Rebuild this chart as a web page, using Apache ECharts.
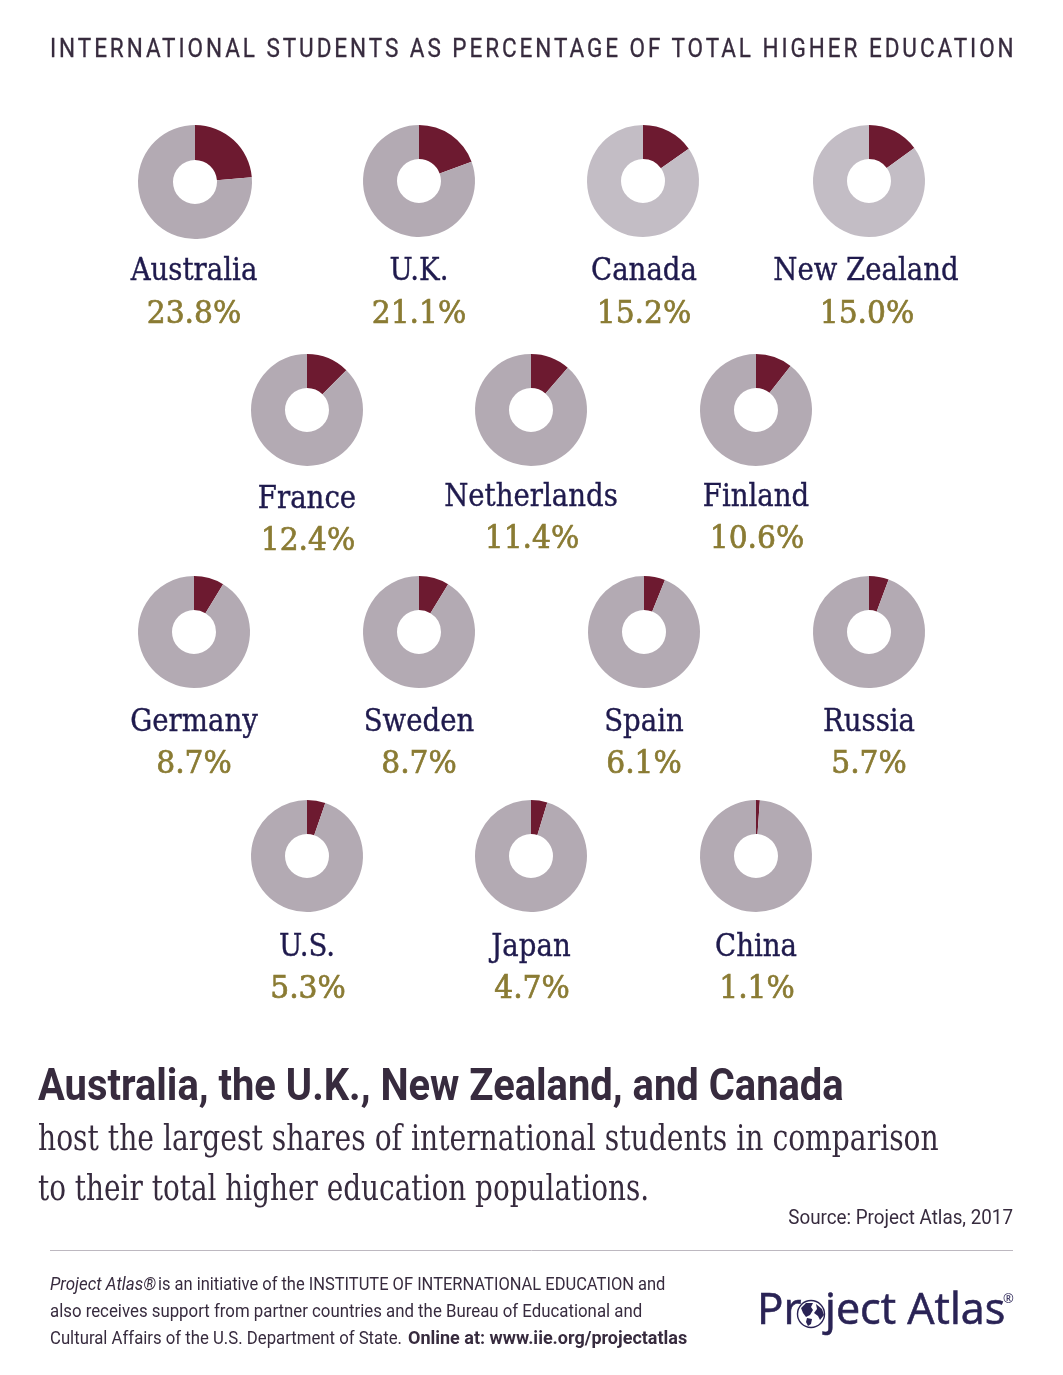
<!DOCTYPE html>
<html lang="en">
<head>
<meta charset="UTF-8">
<style>
html,body{margin:0;padding:0;background:#fff}
#chart{width:1063px;height:1375px}
#top{position:absolute;left:50px;top:34px;font:25px/30px Roboto;color:#372b3e;letter-spacing:3.28px;white-space:nowrap;transform:scaleX(.9);transform-origin:left top;-webkit-text-stroke:.3px #372b3e}
</style>
</head>
<body>
<div id="chart"></div>
<div id="top">INTERNATIONAL STUDENTS AS PERCENTAGE OF TOTAL HIGHER EDUCATION</div>
<script src="https://cdn.jsdelivr.net/npm/echarts@6/dist/echarts.min.js"></script>
<script>
var countries = ['Australia','U.K.','Canada','New Zealand','France','Netherlands','Finland','Germany','Sweden','Spain','Russia','U.S.','Japan','China'];
var shares = [23.8,21.1,15.2,15.0,12.4,11.4,10.6,8.7,8.7,6.1,5.7,5.3,4.7,1.1];
// wedge sizes as drawn in the picture, the U.K. wedge is narrower than its label
var drawnShares = [23.7,19.4,15.2,15.0,12.4,11.4,10.6,8.7,8.7,6.1,5.7,5.3,4.7,1.1];
var restColors = ['#b3aab3','#b3aab3','#c3bdc5','#c3bdc5','#b3aab3','#b3aab3','#b3aab3','#b3aab3','#b3aab3','#b3aab3','#b3aab3','#b3aab3','#b3aab3','#b3aab3'];

// pie centre x, y, radius
var pieX = [195,419,643,869,307,531,756,194,419,644,869,307,531,756];
var pieY = [182,181,181,181,410,410,410,632,632,632,632,856,856,856];
var pieR = [57,56,56,56,56,56,56,56,56,56,56,56,56,56];
var nameX = [194,419,644,866,307,531,756,194,419,644,869,307,531,756];
var nameY = [272,272,272,272,500,498,498,723,723,723,723,948,948,948];
var valueX = [194,419,644,867,308,532,757,194,419,644,869,308,532,757];
var valueY = [315,315,315,315,542,540,540,765,765,765,765,990,990,990];

var slab = '"DejaVu Serif"';
var sans = 'Roboto';
var dark = '#372b3e';
var navy = '#2a2355';

var series = [];
var graphic = [];

function text(x, y, str, size, color, font, opt) {
    opt = opt || {};
    graphic.push({
        type: 'text', x: x, y: y, scaleX: opt.sx || 1, silent: true,
        style: {
            text: str, fontSize: size, fill: color, fontFamily: font,
            fontWeight: opt.weight || 'normal', fontStyle: opt.style || 'normal',
            align: opt.align || 'left', verticalAlign: 'middle',
            stroke: opt.stroke ? color : null, lineWidth: opt.stroke || 0
        }
    });
}

for (var i = 0; i < countries.length; i++) {
    series.push({
        type: 'pie',
        silent: true,
        animation: false,
        center: [pieX[i], pieY[i]],
        radius: [22, pieR[i]],
        startAngle: 90,
        clockwise: true,
        label: {show: false},
        labelLine: {show: false},
        data: [
            {value: drawnShares[i], name: countries[i], itemStyle: {color: '#6d1a30'}},
            {value: 100 - drawnShares[i], name: 'Other', itemStyle: {color: restColors[i]}}
        ]
    });
    text(nameX[i], nameY[i], countries[i], 31, '#1f1a4d', slab, {align: 'center', sx: 0.89, stroke: 0.4});
    text(valueX[i], valueY[i], shares[i].toFixed(1) + '%', 32, '#8a7b33', slab, {align: 'center', sx: 0.93, stroke: 0.7});
}

text(38, 1089, 'Australia, the U.K., New Zealand, and Canada', 44, dark, sans, {weight: 'bold', sx: 0.907});
text(38, 1141, 'host the largest shares of international students in comparison', 35, dark, slab, {sx: 0.805});
text(38, 1191, 'to their total higher education populations.', 35, dark, slab, {sx: 0.797});
text(1013, 1219, 'Source: Project Atlas, 2017', 20, dark, sans, {align: 'right', sx: 0.94});

graphic.push({type: 'line', silent: true, shape: {x1: 50, y1: 1250.5, x2: 1013, y2: 1250.5}, style: {stroke: '#bdb8c0', lineWidth: 1}});

text(50, 1285, 'Project Atlas®', 18, dark, sans, {style: 'italic', sx: 0.94});
text(158, 1285, 'is an initiative of the INSTITUTE OF INTERNATIONAL EDUCATION and', 18, dark, sans, {sx: 0.915});
text(50, 1312, 'also receives support from partner countries and the Bureau of Educational and', 18, dark, sans, {sx: 0.934});
text(50, 1339, 'Cultural Affairs of the U.S. Department of State.', 18, dark, sans, {sx: 0.93});
text(408, 1339, 'Online at: www.iie.org/projectatlas', 18, dark, sans, {weight: 'bold'});

text(757, 1311, 'Pr', 44, navy, '"Open Sans"', {stroke: 0.6});
text(825, 1311, 'ject Atlas', 44, navy, '"Open Sans"', {stroke: 0.6, sx: 0.98});
text(1003, 1299, '®', 13, navy, '"Open Sans"');
graphic.push({type: 'circle', silent: true, shape: {cx: 811, cy: 1314, r: 13.5}, style: {fill: '#fff', stroke: navy, lineWidth: 1.4}});
graphic.push({type: 'polygon', silent: true, shape: {points: [[801,1308],[806,1303],[813,1303],[811,1307],[813,1310],[810,1315],[806,1317],[803,1313]]}, style: {fill: navy}});
graphic.push({type: 'polygon', silent: true, shape: {points: [[816,1304],[822,1309],[824,1315],[820,1320],[818,1316],[814,1313],[817,1309]]}, style: {fill: navy}});
graphic.push({type: 'polygon', silent: true, shape: {points: [[807,1318],[812,1319],[811,1324],[808,1326],[806,1322]]}, style: {fill: navy}});

var chart = echarts.init(document.getElementById('chart'), null, {renderer: 'canvas'});
chart.setOption({
    backgroundColor: '#fff',
    animation: false,
    series: series,
    graphic: {elements: graphic}
});
</script>
</body>
</html>
